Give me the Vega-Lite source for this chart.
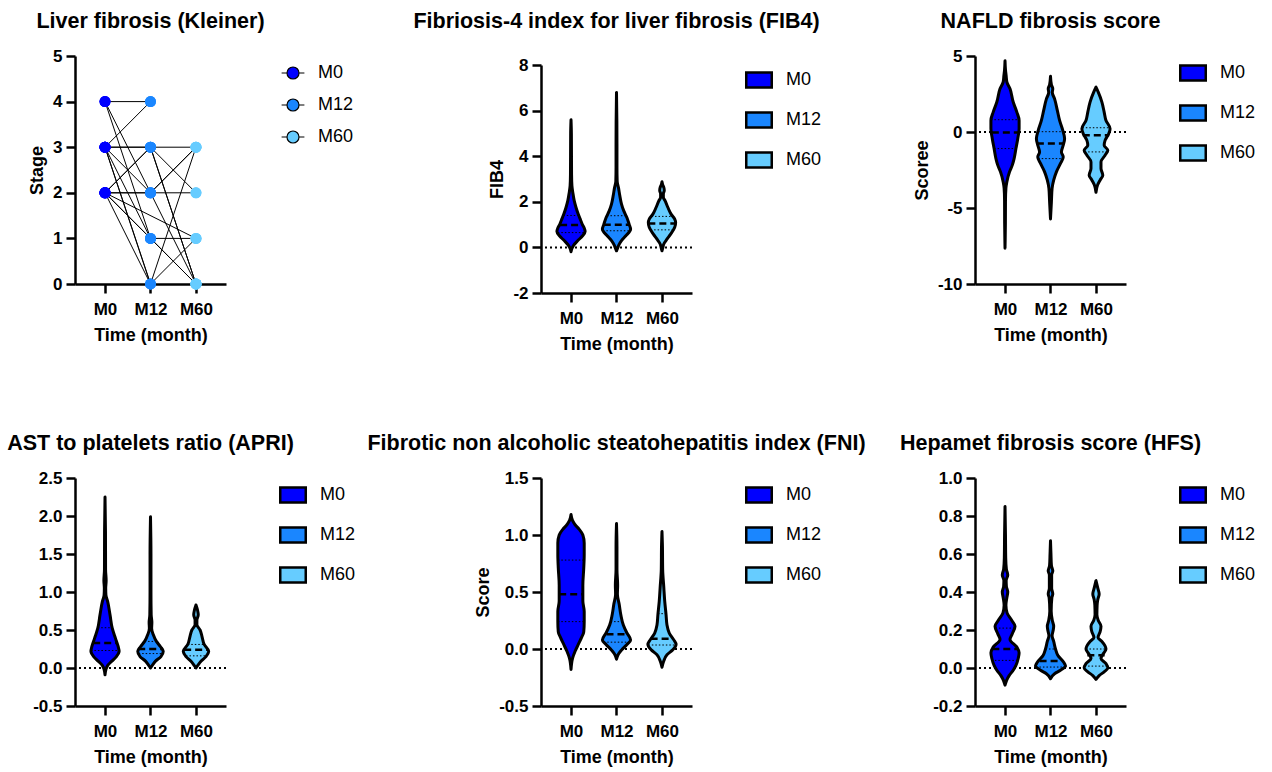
{
  "$schema": "https://vega.github.io/schema/vega-lite/v6.json",
  "padding": {"left": 7, "top": 10, "right": 5, "bottom": 5},
  "config": {
    "font": "Liberation Sans",
    "view": {"stroke": null},
    "axis": {"domainColor": "black", "domainWidth": 2.5, "tickColor": "black", "tickWidth": 2.5, "tickSize": 9, "labelFont": "Liberation Sans", "labelFontWeight": "bold", "labelFontSize": 17, "labelColor": "black", "labelPadding": 4, "titleFont": "Liberation Sans", "titleFontSize": 18, "titleFontWeight": "bold", "titleColor": "black", "titlePadding": 6, "grid": false, "labelFlush": false, "labelOverlap": false},
    "axisX": {"labelAngle": 0, "labelPadding": 8, "titlePadding": 9},
    "legend": {"orient": "right", "offset": 50, "padding": 8, "rowPadding": 14, "labelFont": "Liberation Sans", "labelFontSize": 18, "labelColor": "black", "symbolStrokeColor": "black"},
    "title": {"font": "Liberation Sans", "fontSize": 21.5, "fontWeight": "bold", "color": "black", "anchor": "middle", "frame": "group", "baseline": "alphabetic", "offset": 15}
  },
  "datasets": {
    "kleiner": [
      {"s": 1, "t": 1, "time": "M0", "stage": 4}, {"s": 1, "t": 2, "time": "M12", "stage": 4},
      {"s": 2, "t": 1, "time": "M0", "stage": 4}, {"s": 2, "t": 2, "time": "M12", "stage": 2}, {"s": 2, "t": 3, "time": "M60", "stage": 0},
      {"s": 3, "t": 1, "time": "M0", "stage": 4}, {"s": 3, "t": 2, "time": "M12", "stage": 1}, {"s": 3, "t": 3, "time": "M60", "stage": 0},
      {"s": 4, "t": 1, "time": "M0", "stage": 3}, {"s": 4, "t": 2, "time": "M12", "stage": 4},
      {"s": 5, "t": 1, "time": "M0", "stage": 3}, {"s": 5, "t": 2, "time": "M12", "stage": 3}, {"s": 5, "t": 3, "time": "M60", "stage": 3},
      {"s": 6, "t": 1, "time": "M0", "stage": 3}, {"s": 6, "t": 2, "time": "M12", "stage": 2}, {"s": 6, "t": 3, "time": "M60", "stage": 3},
      {"s": 7, "t": 1, "time": "M0", "stage": 3}, {"s": 7, "t": 2, "time": "M12", "stage": 1}, {"s": 7, "t": 3, "time": "M60", "stage": 1},
      {"s": 8, "t": 1, "time": "M0", "stage": 3}, {"s": 8, "t": 2, "time": "M12", "stage": 0}, {"s": 8, "t": 3, "time": "M60", "stage": 3},
      {"s": 9, "t": 1, "time": "M0", "stage": 3}, {"s": 9, "t": 2, "time": "M12", "stage": 0}, {"s": 9, "t": 3, "time": "M60", "stage": 1},
      {"s": 10, "t": 1, "time": "M0", "stage": 2}, {"s": 10, "t": 2, "time": "M12", "stage": 3}, {"s": 10, "t": 3, "time": "M60", "stage": 2},
      {"s": 11, "t": 1, "time": "M0", "stage": 2}, {"s": 11, "t": 2, "time": "M12", "stage": 3}, {"s": 11, "t": 3, "time": "M60", "stage": 0},
      {"s": 12, "t": 1, "time": "M0", "stage": 2}, {"s": 12, "t": 2, "time": "M12", "stage": 2}, {"s": 12, "t": 3, "time": "M60", "stage": 2},
      {"s": 13, "t": 1, "time": "M0", "stage": 2}, {"s": 13, "t": 2, "time": "M12", "stage": 1}, {"s": 13, "t": 3, "time": "M60", "stage": 0},
      {"s": 14, "t": 1, "time": "M0", "stage": 2}, {"s": 14, "t": 2, "time": "M12", "stage": 0},
      {"s": 15, "t": 1, "time": "M0", "stage": 2}, {"s": 15, "t": 3, "time": "M60", "stage": 1},
      {"s": 16, "t": 1, "time": "M0", "stage": 2}, {"s": 16, "t": 3, "time": "M60", "stage": 0},
      {"s": 17, "t": 1, "time": "M0", "stage": 3}, {"s": 17, "t": 2, "time": "M12", "stage": 3}, {"s": 17, "t": 3, "time": "M60", "stage": 0},
      {"s": 18, "t": 1, "time": "M0", "stage": 2}, {"s": 18, "t": 2, "time": "M12", "stage": 2}, {"s": 18, "t": 3, "time": "M60", "stage": 3}
    ],
    "violin": [
      {"panel": "FIB4", "time": "M0", "value": -0.19, "lo": 1, "hi": 1},
      {"panel": "FIB4", "time": "M0", "value": -0.05, "lo": 0.98, "hi": 1.02},
      {"panel": "FIB4", "time": "M0", "value": 0.1, "lo": 0.94, "hi": 1.06},
      {"panel": "FIB4", "time": "M0", "value": 0.3, "lo": 0.85, "hi": 1.15},
      {"panel": "FIB4", "time": "M0", "value": 0.5, "lo": 0.75, "hi": 1.25},
      {"panel": "FIB4", "time": "M0", "value": 0.7, "lo": 0.69, "hi": 1.31},
      {"panel": "FIB4", "time": "M0", "value": 0.85, "lo": 0.71, "hi": 1.29},
      {"panel": "FIB4", "time": "M0", "value": 1.0, "lo": 0.75, "hi": 1.25},
      {"panel": "FIB4", "time": "M0", "value": 1.2, "lo": 0.79, "hi": 1.21},
      {"panel": "FIB4", "time": "M0", "value": 1.45, "lo": 0.84, "hi": 1.16},
      {"panel": "FIB4", "time": "M0", "value": 1.75, "lo": 0.89, "hi": 1.11},
      {"panel": "FIB4", "time": "M0", "value": 2.05, "lo": 0.93, "hi": 1.07},
      {"panel": "FIB4", "time": "M0", "value": 2.4, "lo": 0.96, "hi": 1.04},
      {"panel": "FIB4", "time": "M0", "value": 2.7, "lo": 0.98, "hi": 1.02},
      {"panel": "FIB4", "time": "M0", "value": 3.2, "lo": 0.988, "hi": 1.012},
      {"panel": "FIB4", "time": "M0", "value": 4.0, "lo": 0.99, "hi": 1.01},
      {"panel": "FIB4", "time": "M0", "value": 5.0, "lo": 0.992, "hi": 1.008},
      {"panel": "FIB4", "time": "M0", "value": 5.6, "lo": 1, "hi": 1},
      {"panel": "FIB4", "time": "M12", "value": -0.15, "lo": 2, "hi": 2},
      {"panel": "FIB4", "time": "M12", "value": 0.0, "lo": 1.97, "hi": 2.03},
      {"panel": "FIB4", "time": "M12", "value": 0.1, "lo": 1.95, "hi": 2.05},
      {"panel": "FIB4", "time": "M12", "value": 0.3, "lo": 1.89, "hi": 2.11},
      {"panel": "FIB4", "time": "M12", "value": 0.5, "lo": 1.8, "hi": 2.2},
      {"panel": "FIB4", "time": "M12", "value": 0.8, "lo": 1.69, "hi": 2.31},
      {"panel": "FIB4", "time": "M12", "value": 1.0, "lo": 1.72, "hi": 2.28},
      {"panel": "FIB4", "time": "M12", "value": 1.3, "lo": 1.77, "hi": 2.23},
      {"panel": "FIB4", "time": "M12", "value": 1.6, "lo": 1.84, "hi": 2.16},
      {"panel": "FIB4", "time": "M12", "value": 1.9, "lo": 1.89, "hi": 2.11},
      {"panel": "FIB4", "time": "M12", "value": 2.3, "lo": 1.93, "hi": 2.07},
      {"panel": "FIB4", "time": "M12", "value": 2.6, "lo": 1.955, "hi": 2.045},
      {"panel": "FIB4", "time": "M12", "value": 2.9, "lo": 1.985, "hi": 2.015},
      {"panel": "FIB4", "time": "M12", "value": 3.5, "lo": 1.99, "hi": 2.01},
      {"panel": "FIB4", "time": "M12", "value": 4.5, "lo": 1.99, "hi": 2.01},
      {"panel": "FIB4", "time": "M12", "value": 5.5, "lo": 1.992, "hi": 2.008},
      {"panel": "FIB4", "time": "M12", "value": 6.79, "lo": 2, "hi": 2},
      {"panel": "FIB4", "time": "M60", "value": -0.15, "lo": 3, "hi": 3},
      {"panel": "FIB4", "time": "M60", "value": 0.0, "lo": 2.98, "hi": 3.02},
      {"panel": "FIB4", "time": "M60", "value": 0.15, "lo": 2.96, "hi": 3.04},
      {"panel": "FIB4", "time": "M60", "value": 0.36, "lo": 2.89, "hi": 3.11},
      {"panel": "FIB4", "time": "M60", "value": 0.58, "lo": 2.81, "hi": 3.19},
      {"panel": "FIB4", "time": "M60", "value": 0.88, "lo": 2.72, "hi": 3.28},
      {"panel": "FIB4", "time": "M60", "value": 1.09, "lo": 2.7, "hi": 3.3},
      {"panel": "FIB4", "time": "M60", "value": 1.24, "lo": 2.72, "hi": 3.28},
      {"panel": "FIB4", "time": "M60", "value": 1.46, "lo": 2.8, "hi": 3.2},
      {"panel": "FIB4", "time": "M60", "value": 1.75, "lo": 2.87, "hi": 3.13},
      {"panel": "FIB4", "time": "M60", "value": 2.04, "lo": 2.93, "hi": 3.07},
      {"panel": "FIB4", "time": "M60", "value": 2.2, "lo": 2.97, "hi": 3.03},
      {"panel": "FIB4", "time": "M60", "value": 2.35, "lo": 2.97, "hi": 3.03},
      {"panel": "FIB4", "time": "M60", "value": 2.5, "lo": 2.95, "hi": 3.05},
      {"panel": "FIB4", "time": "M60", "value": 2.63, "lo": 2.96, "hi": 3.04},
      {"panel": "FIB4", "time": "M60", "value": 2.75, "lo": 2.985, "hi": 3.015},
      {"panel": "FIB4", "time": "M60", "value": 2.88, "lo": 3, "hi": 3},

      {"panel": "NFS", "time": "M0", "value": -7.64, "lo": 1, "hi": 1},
      {"panel": "NFS", "time": "M0", "value": -6.0, "lo": 0.992, "hi": 1.008},
      {"panel": "NFS", "time": "M0", "value": -4.5, "lo": 0.99, "hi": 1.01},
      {"panel": "NFS", "time": "M0", "value": -3.7, "lo": 0.98, "hi": 1.02},
      {"panel": "NFS", "time": "M0", "value": -3.28, "lo": 0.96, "hi": 1.04},
      {"panel": "NFS", "time": "M0", "value": -2.62, "lo": 0.9, "hi": 1.1},
      {"panel": "NFS", "time": "M0", "value": -2.18, "lo": 0.84, "hi": 1.16},
      {"panel": "NFS", "time": "M0", "value": -1.75, "lo": 0.8, "hi": 1.2},
      {"panel": "NFS", "time": "M0", "value": -1.09, "lo": 0.76, "hi": 1.24},
      {"panel": "NFS", "time": "M0", "value": -0.44, "lo": 0.72, "hi": 1.28},
      {"panel": "NFS", "time": "M0", "value": 0.22, "lo": 0.69, "hi": 1.31},
      {"panel": "NFS", "time": "M0", "value": 0.76, "lo": 0.69, "hi": 1.31},
      {"panel": "NFS", "time": "M0", "value": 1.31, "lo": 0.74, "hi": 1.26},
      {"panel": "NFS", "time": "M0", "value": 1.97, "lo": 0.82, "hi": 1.18},
      {"panel": "NFS", "time": "M0", "value": 2.84, "lo": 0.89, "hi": 1.11},
      {"panel": "NFS", "time": "M0", "value": 3.3, "lo": 0.96, "hi": 1.04},
      {"panel": "NFS", "time": "M0", "value": 3.7, "lo": 0.975, "hi": 1.025},
      {"panel": "NFS", "time": "M0", "value": 4.1, "lo": 0.99, "hi": 1.01},
      {"panel": "NFS", "time": "M0", "value": 4.69, "lo": 1, "hi": 1},
      {"panel": "NFS", "time": "M12", "value": -5.72, "lo": 2, "hi": 2},
      {"panel": "NFS", "time": "M12", "value": -4.58, "lo": 1.98, "hi": 2.02},
      {"panel": "NFS", "time": "M12", "value": -3.71, "lo": 1.965, "hi": 2.035},
      {"panel": "NFS", "time": "M12", "value": -3.17, "lo": 1.93, "hi": 2.07},
      {"panel": "NFS", "time": "M12", "value": -2.62, "lo": 1.87, "hi": 2.13},
      {"panel": "NFS", "time": "M12", "value": -2.07, "lo": 1.78, "hi": 2.22},
      {"panel": "NFS", "time": "M12", "value": -1.64, "lo": 1.72, "hi": 2.28},
      {"panel": "NFS", "time": "M12", "value": -1.31, "lo": 1.76, "hi": 2.24},
      {"panel": "NFS", "time": "M12", "value": -0.87, "lo": 1.72, "hi": 2.28},
      {"panel": "NFS", "time": "M12", "value": -0.44, "lo": 1.69, "hi": 2.31},
      {"panel": "NFS", "time": "M12", "value": 0.11, "lo": 1.73, "hi": 2.27},
      {"panel": "NFS", "time": "M12", "value": 0.76, "lo": 1.8, "hi": 2.2},
      {"panel": "NFS", "time": "M12", "value": 1.42, "lo": 1.85, "hi": 2.15},
      {"panel": "NFS", "time": "M12", "value": 2.18, "lo": 1.91, "hi": 2.09},
      {"panel": "NFS", "time": "M12", "value": 2.6, "lo": 1.96, "hi": 2.04},
      {"panel": "NFS", "time": "M12", "value": 2.85, "lo": 1.95, "hi": 2.05},
      {"panel": "NFS", "time": "M12", "value": 3.1, "lo": 1.98, "hi": 2.02},
      {"panel": "NFS", "time": "M12", "value": 3.67, "lo": 2, "hi": 2},
      {"panel": "NFS", "time": "M60", "value": -3.97, "lo": 3, "hi": 3},
      {"panel": "NFS", "time": "M60", "value": -3.49, "lo": 2.965, "hi": 3.035},
      {"panel": "NFS", "time": "M60", "value": -3.17, "lo": 2.91, "hi": 3.09},
      {"panel": "NFS", "time": "M60", "value": -2.84, "lo": 2.85, "hi": 3.15},
      {"panel": "NFS", "time": "M60", "value": -2.4, "lo": 2.89, "hi": 3.11},
      {"panel": "NFS", "time": "M60", "value": -1.97, "lo": 2.89, "hi": 3.11},
      {"panel": "NFS", "time": "M60", "value": -1.53, "lo": 2.8, "hi": 3.2},
      {"panel": "NFS", "time": "M60", "value": -1.2, "lo": 2.74, "hi": 3.26},
      {"panel": "NFS", "time": "M60", "value": -0.87, "lo": 2.82, "hi": 3.18},
      {"panel": "NFS", "time": "M60", "value": -0.55, "lo": 2.8, "hi": 3.2},
      {"panel": "NFS", "time": "M60", "value": -0.11, "lo": 2.72, "hi": 3.28},
      {"panel": "NFS", "time": "M60", "value": 0.22, "lo": 2.69, "hi": 3.31},
      {"panel": "NFS", "time": "M60", "value": 0.76, "lo": 2.78, "hi": 3.22},
      {"panel": "NFS", "time": "M60", "value": 1.31, "lo": 2.82, "hi": 3.18},
      {"panel": "NFS", "time": "M60", "value": 1.97, "lo": 2.87, "hi": 3.13},
      {"panel": "NFS", "time": "M60", "value": 2.62, "lo": 2.95, "hi": 3.05},
      {"panel": "NFS", "time": "M60", "value": 2.95, "lo": 3, "hi": 3},

      {"panel": "APRI", "time": "M0", "value": -0.09, "lo": 1, "hi": 1},
      {"panel": "APRI", "time": "M0", "value": -0.02, "lo": 0.98, "hi": 1.02},
      {"panel": "APRI", "time": "M0", "value": 0.035, "lo": 0.94, "hi": 1.06},
      {"panel": "APRI", "time": "M0", "value": 0.09, "lo": 0.85, "hi": 1.15},
      {"panel": "APRI", "time": "M0", "value": 0.15, "lo": 0.75, "hi": 1.25},
      {"panel": "APRI", "time": "M0", "value": 0.22, "lo": 0.69, "hi": 1.31},
      {"panel": "APRI", "time": "M0", "value": 0.28, "lo": 0.71, "hi": 1.29},
      {"panel": "APRI", "time": "M0", "value": 0.39, "lo": 0.77, "hi": 1.23},
      {"panel": "APRI", "time": "M0", "value": 0.52, "lo": 0.84, "hi": 1.16},
      {"panel": "APRI", "time": "M0", "value": 0.7, "lo": 0.89, "hi": 1.11},
      {"panel": "APRI", "time": "M0", "value": 0.87, "lo": 0.94, "hi": 1.06},
      {"panel": "APRI", "time": "M0", "value": 0.96, "lo": 0.98, "hi": 1.02},
      {"panel": "APRI", "time": "M0", "value": 1.05, "lo": 0.985, "hi": 1.015},
      {"panel": "APRI", "time": "M0", "value": 1.15, "lo": 0.975, "hi": 1.025},
      {"panel": "APRI", "time": "M0", "value": 1.3, "lo": 0.988, "hi": 1.012},
      {"panel": "APRI", "time": "M0", "value": 1.8, "lo": 0.99, "hi": 1.01},
      {"panel": "APRI", "time": "M0", "value": 2.25, "lo": 1, "hi": 1},
      {"panel": "APRI", "time": "M12", "value": 0.0, "lo": 2, "hi": 2},
      {"panel": "APRI", "time": "M12", "value": 0.035, "lo": 1.96, "hi": 2.04},
      {"panel": "APRI", "time": "M12", "value": 0.09, "lo": 1.89, "hi": 2.11},
      {"panel": "APRI", "time": "M12", "value": 0.15, "lo": 1.77, "hi": 2.23},
      {"panel": "APRI", "time": "M12", "value": 0.22, "lo": 1.72, "hi": 2.28},
      {"panel": "APRI", "time": "M12", "value": 0.28, "lo": 1.78, "hi": 2.22},
      {"panel": "APRI", "time": "M12", "value": 0.35, "lo": 1.87, "hi": 2.13},
      {"panel": "APRI", "time": "M12", "value": 0.44, "lo": 1.94, "hi": 2.06},
      {"panel": "APRI", "time": "M12", "value": 0.52, "lo": 1.975, "hi": 2.025},
      {"panel": "APRI", "time": "M12", "value": 0.6, "lo": 1.97, "hi": 2.03},
      {"panel": "APRI", "time": "M12", "value": 0.7, "lo": 1.985, "hi": 2.015},
      {"panel": "APRI", "time": "M12", "value": 1.0, "lo": 1.99, "hi": 2.01},
      {"panel": "APRI", "time": "M12", "value": 1.5, "lo": 1.99, "hi": 2.01},
      {"panel": "APRI", "time": "M12", "value": 1.99, "lo": 2, "hi": 2},
      {"panel": "APRI", "time": "M60", "value": 0.0, "lo": 3, "hi": 3},
      {"panel": "APRI", "time": "M60", "value": 0.035, "lo": 2.96, "hi": 3.04},
      {"panel": "APRI", "time": "M60", "value": 0.09, "lo": 2.89, "hi": 3.11},
      {"panel": "APRI", "time": "M60", "value": 0.15, "lo": 2.78, "hi": 3.22},
      {"panel": "APRI", "time": "M60", "value": 0.22, "lo": 2.72, "hi": 3.28},
      {"panel": "APRI", "time": "M60", "value": 0.31, "lo": 2.82, "hi": 3.18},
      {"panel": "APRI", "time": "M60", "value": 0.42, "lo": 2.87, "hi": 3.13},
      {"panel": "APRI", "time": "M60", "value": 0.5, "lo": 2.91, "hi": 3.09},
      {"panel": "APRI", "time": "M60", "value": 0.57, "lo": 2.98, "hi": 3.02},
      {"panel": "APRI", "time": "M60", "value": 0.63, "lo": 2.98, "hi": 3.02},
      {"panel": "APRI", "time": "M60", "value": 0.7, "lo": 2.95, "hi": 3.05},
      {"panel": "APRI", "time": "M60", "value": 0.76, "lo": 2.965, "hi": 3.035},
      {"panel": "APRI", "time": "M60", "value": 0.83, "lo": 3, "hi": 3},

      {"panel": "FNI", "time": "M0", "value": -0.18, "lo": 1, "hi": 1},
      {"panel": "FNI", "time": "M0", "value": -0.08, "lo": 0.965, "hi": 1.035},
      {"panel": "FNI", "time": "M0", "value": -0.02, "lo": 0.91, "hi": 1.09},
      {"panel": "FNI", "time": "M0", "value": 0.04, "lo": 0.84, "hi": 1.16},
      {"panel": "FNI", "time": "M0", "value": 0.1, "lo": 0.77, "hi": 1.23},
      {"panel": "FNI", "time": "M0", "value": 0.15, "lo": 0.72, "hi": 1.28},
      {"panel": "FNI", "time": "M0", "value": 0.24, "lo": 0.71, "hi": 1.29},
      {"panel": "FNI", "time": "M0", "value": 0.33, "lo": 0.71, "hi": 1.29},
      {"panel": "FNI", "time": "M0", "value": 0.42, "lo": 0.74, "hi": 1.26},
      {"panel": "FNI", "time": "M0", "value": 0.56, "lo": 0.74, "hi": 1.26},
      {"panel": "FNI", "time": "M0", "value": 0.71, "lo": 0.72, "hi": 1.28},
      {"panel": "FNI", "time": "M0", "value": 0.83, "lo": 0.71, "hi": 1.29},
      {"panel": "FNI", "time": "M0", "value": 0.93, "lo": 0.71, "hi": 1.29},
      {"panel": "FNI", "time": "M0", "value": 1.0, "lo": 0.74, "hi": 1.26},
      {"panel": "FNI", "time": "M0", "value": 1.05, "lo": 0.82, "hi": 1.18},
      {"panel": "FNI", "time": "M0", "value": 1.09, "lo": 0.91, "hi": 1.09},
      {"panel": "FNI", "time": "M0", "value": 1.13, "lo": 0.97, "hi": 1.03},
      {"panel": "FNI", "time": "M0", "value": 1.18, "lo": 1, "hi": 1},
      {"panel": "FNI", "time": "M12", "value": -0.09, "lo": 2, "hi": 2},
      {"panel": "FNI", "time": "M12", "value": -0.05, "lo": 1.965, "hi": 2.035},
      {"panel": "FNI", "time": "M12", "value": -0.01, "lo": 1.89, "hi": 2.11},
      {"panel": "FNI", "time": "M12", "value": 0.04, "lo": 1.77, "hi": 2.23},
      {"panel": "FNI", "time": "M12", "value": 0.08, "lo": 1.69, "hi": 2.31},
      {"panel": "FNI", "time": "M12", "value": 0.14, "lo": 1.77, "hi": 2.23},
      {"panel": "FNI", "time": "M12", "value": 0.21, "lo": 1.85, "hi": 2.15},
      {"panel": "FNI", "time": "M12", "value": 0.3, "lo": 1.905, "hi": 2.095},
      {"panel": "FNI", "time": "M12", "value": 0.39, "lo": 1.94, "hi": 2.06},
      {"panel": "FNI", "time": "M12", "value": 0.48, "lo": 1.98, "hi": 2.02},
      {"panel": "FNI", "time": "M12", "value": 0.56, "lo": 1.975, "hi": 2.025},
      {"panel": "FNI", "time": "M12", "value": 0.7, "lo": 1.99, "hi": 2.01},
      {"panel": "FNI", "time": "M12", "value": 0.9, "lo": 1.99, "hi": 2.01},
      {"panel": "FNI", "time": "M12", "value": 1.1, "lo": 2, "hi": 2},
      {"panel": "FNI", "time": "M60", "value": -0.16, "lo": 3, "hi": 3},
      {"panel": "FNI", "time": "M60", "value": -0.11, "lo": 2.965, "hi": 3.035},
      {"panel": "FNI", "time": "M60", "value": -0.05, "lo": 2.89, "hi": 3.11},
      {"panel": "FNI", "time": "M60", "value": -0.01, "lo": 2.77, "hi": 3.23},
      {"panel": "FNI", "time": "M60", "value": 0.04, "lo": 2.69, "hi": 3.31},
      {"panel": "FNI", "time": "M60", "value": 0.08, "lo": 2.74, "hi": 3.26},
      {"panel": "FNI", "time": "M60", "value": 0.14, "lo": 2.84, "hi": 3.16},
      {"panel": "FNI", "time": "M60", "value": 0.21, "lo": 2.89, "hi": 3.11},
      {"panel": "FNI", "time": "M60", "value": 0.3, "lo": 2.91, "hi": 3.09},
      {"panel": "FNI", "time": "M60", "value": 0.42, "lo": 2.94, "hi": 3.06},
      {"panel": "FNI", "time": "M60", "value": 0.54, "lo": 2.96, "hi": 3.04},
      {"panel": "FNI", "time": "M60", "value": 0.7, "lo": 2.985, "hi": 3.015},
      {"panel": "FNI", "time": "M60", "value": 0.9, "lo": 2.99, "hi": 3.01},
      {"panel": "FNI", "time": "M60", "value": 1.03, "lo": 3, "hi": 3},

      {"panel": "HFS", "time": "M0", "value": -0.09, "lo": 1, "hi": 1},
      {"panel": "HFS", "time": "M0", "value": -0.065, "lo": 0.965, "hi": 1.035},
      {"panel": "HFS", "time": "M0", "value": -0.04, "lo": 0.91, "hi": 1.09},
      {"panel": "HFS", "time": "M0", "value": -0.012, "lo": 0.82, "hi": 1.18},
      {"panel": "HFS", "time": "M0", "value": 0.014, "lo": 0.76, "hi": 1.24},
      {"panel": "HFS", "time": "M0", "value": 0.05, "lo": 0.71, "hi": 1.29},
      {"panel": "HFS", "time": "M0", "value": 0.08, "lo": 0.69, "hi": 1.31},
      {"panel": "HFS", "time": "M0", "value": 0.11, "lo": 0.74, "hi": 1.26},
      {"panel": "HFS", "time": "M0", "value": 0.15, "lo": 0.89, "hi": 1.11},
      {"panel": "HFS", "time": "M0", "value": 0.18, "lo": 0.84, "hi": 1.16},
      {"panel": "HFS", "time": "M0", "value": 0.22, "lo": 0.78, "hi": 1.22},
      {"panel": "HFS", "time": "M0", "value": 0.25, "lo": 0.85, "hi": 1.15},
      {"panel": "HFS", "time": "M0", "value": 0.29, "lo": 0.955, "hi": 1.045},
      {"panel": "HFS", "time": "M0", "value": 0.33, "lo": 0.98, "hi": 1.02},
      {"panel": "HFS", "time": "M0", "value": 0.37, "lo": 0.96, "hi": 1.04},
      {"panel": "HFS", "time": "M0", "value": 0.4, "lo": 0.94, "hi": 1.06},
      {"panel": "HFS", "time": "M0", "value": 0.43, "lo": 0.97, "hi": 1.03},
      {"panel": "HFS", "time": "M0", "value": 0.46, "lo": 0.975, "hi": 1.025},
      {"panel": "HFS", "time": "M0", "value": 0.49, "lo": 0.94, "hi": 1.06},
      {"panel": "HFS", "time": "M0", "value": 0.52, "lo": 0.97, "hi": 1.03},
      {"panel": "HFS", "time": "M0", "value": 0.58, "lo": 0.985, "hi": 1.015},
      {"panel": "HFS", "time": "M0", "value": 0.7, "lo": 0.99, "hi": 1.01},
      {"panel": "HFS", "time": "M0", "value": 0.85, "lo": 1, "hi": 1},
      {"panel": "HFS", "time": "M12", "value": -0.056, "lo": 2, "hi": 2},
      {"panel": "HFS", "time": "M12", "value": -0.03, "lo": 1.91, "hi": 2.09},
      {"panel": "HFS", "time": "M12", "value": -0.012, "lo": 1.78, "hi": 2.22},
      {"panel": "HFS", "time": "M12", "value": 0.01, "lo": 1.67, "hi": 2.33},
      {"panel": "HFS", "time": "M12", "value": 0.03, "lo": 1.71, "hi": 2.29},
      {"panel": "HFS", "time": "M12", "value": 0.067, "lo": 1.84, "hi": 2.16},
      {"panel": "HFS", "time": "M12", "value": 0.1, "lo": 1.89, "hi": 2.11},
      {"panel": "HFS", "time": "M12", "value": 0.14, "lo": 1.93, "hi": 2.07},
      {"panel": "HFS", "time": "M12", "value": 0.17, "lo": 1.965, "hi": 2.035},
      {"panel": "HFS", "time": "M12", "value": 0.2, "lo": 1.94, "hi": 2.06},
      {"panel": "HFS", "time": "M12", "value": 0.22, "lo": 1.93, "hi": 2.07},
      {"panel": "HFS", "time": "M12", "value": 0.25, "lo": 1.96, "hi": 2.04},
      {"panel": "HFS", "time": "M12", "value": 0.3, "lo": 1.985, "hi": 2.015},
      {"panel": "HFS", "time": "M12", "value": 0.37, "lo": 1.97, "hi": 2.03},
      {"panel": "HFS", "time": "M12", "value": 0.39, "lo": 1.95, "hi": 2.05},
      {"panel": "HFS", "time": "M12", "value": 0.42, "lo": 1.975, "hi": 2.025},
      {"panel": "HFS", "time": "M12", "value": 0.49, "lo": 1.975, "hi": 2.025},
      {"panel": "HFS", "time": "M12", "value": 0.51, "lo": 1.95, "hi": 2.05},
      {"panel": "HFS", "time": "M12", "value": 0.54, "lo": 1.98, "hi": 2.02},
      {"panel": "HFS", "time": "M12", "value": 0.6, "lo": 1.99, "hi": 2.01},
      {"panel": "HFS", "time": "M12", "value": 0.67, "lo": 2, "hi": 2},
      {"panel": "HFS", "time": "M60", "value": -0.06, "lo": 3, "hi": 3},
      {"panel": "HFS", "time": "M60", "value": -0.04, "lo": 2.93, "hi": 3.07},
      {"panel": "HFS", "time": "M60", "value": -0.02, "lo": 2.82, "hi": 3.18},
      {"panel": "HFS", "time": "M60", "value": 0.0, "lo": 2.74, "hi": 3.26},
      {"panel": "HFS", "time": "M60", "value": 0.023, "lo": 2.78, "hi": 3.22},
      {"panel": "HFS", "time": "M60", "value": 0.05, "lo": 2.89, "hi": 3.11},
      {"panel": "HFS", "time": "M60", "value": 0.075, "lo": 2.84, "hi": 3.16},
      {"panel": "HFS", "time": "M60", "value": 0.1, "lo": 2.78, "hi": 3.22},
      {"panel": "HFS", "time": "M60", "value": 0.14, "lo": 2.87, "hi": 3.13},
      {"panel": "HFS", "time": "M60", "value": 0.16, "lo": 2.955, "hi": 3.045},
      {"panel": "HFS", "time": "M60", "value": 0.19, "lo": 2.91, "hi": 3.09},
      {"panel": "HFS", "time": "M60", "value": 0.22, "lo": 2.89, "hi": 3.11},
      {"panel": "HFS", "time": "M60", "value": 0.25, "lo": 2.95, "hi": 3.05},
      {"panel": "HFS", "time": "M60", "value": 0.28, "lo": 2.98, "hi": 3.02},
      {"panel": "HFS", "time": "M60", "value": 0.33, "lo": 2.975, "hi": 3.025},
      {"panel": "HFS", "time": "M60", "value": 0.36, "lo": 2.96, "hi": 3.04},
      {"panel": "HFS", "time": "M60", "value": 0.39, "lo": 2.93, "hi": 3.07},
      {"panel": "HFS", "time": "M60", "value": 0.42, "lo": 2.96, "hi": 3.04},
      {"panel": "HFS", "time": "M60", "value": 0.46, "lo": 3, "hi": 3}
    ],
    "stats": [
      {"panel": "FIB4", "time": "M0", "stat": "median", "value": 0.98, "lo": 0.76, "hi": 1.24},
      {"panel": "FIB4", "time": "M0", "stat": "quartile", "value": 0.65, "lo": 0.71, "hi": 1.29},
      {"panel": "FIB4", "time": "M0", "stat": "quartile", "value": 1.4, "lo": 0.83, "hi": 1.17},
      {"panel": "FIB4", "time": "M12", "stat": "median", "value": 0.99, "lo": 1.72, "hi": 2.28},
      {"panel": "FIB4", "time": "M12", "stat": "quartile", "value": 0.73, "lo": 1.7, "hi": 2.3},
      {"panel": "FIB4", "time": "M12", "stat": "quartile", "value": 1.39, "lo": 1.79, "hi": 2.21},
      {"panel": "FIB4", "time": "M60", "stat": "median", "value": 1.05, "lo": 2.7, "hi": 3.3},
      {"panel": "FIB4", "time": "M60", "stat": "quartile", "value": 0.77, "lo": 2.75, "hi": 3.25},
      {"panel": "FIB4", "time": "M60", "stat": "quartile", "value": 1.36, "lo": 2.77, "hi": 3.23},
      {"panel": "NFS", "time": "M0", "stat": "median", "value": -0.04, "lo": 0.71, "hi": 1.29},
      {"panel": "NFS", "time": "M0", "stat": "quartile", "value": -1.09, "lo": 0.76, "hi": 1.24},
      {"panel": "NFS", "time": "M0", "stat": "quartile", "value": 0.81, "lo": 0.69, "hi": 1.31},
      {"panel": "NFS", "time": "M12", "stat": "median", "value": -0.76, "lo": 1.7, "hi": 2.3},
      {"panel": "NFS", "time": "M12", "stat": "quartile", "value": -1.75, "lo": 1.73, "hi": 2.27},
      {"panel": "NFS", "time": "M12", "stat": "quartile", "value": 0.02, "lo": 1.73, "hi": 2.27},
      {"panel": "NFS", "time": "M60", "stat": "median", "value": -0.22, "lo": 2.71, "hi": 3.29},
      {"panel": "NFS", "time": "M60", "stat": "quartile", "value": -1.31, "lo": 2.75, "hi": 3.25},
      {"panel": "NFS", "time": "M60", "stat": "quartile", "value": 0.28, "lo": 2.7, "hi": 3.3},
      {"panel": "APRI", "time": "M0", "stat": "median", "value": 0.33, "lo": 0.74, "hi": 1.26},
      {"panel": "APRI", "time": "M0", "stat": "quartile", "value": 0.23, "lo": 0.69, "hi": 1.31},
      {"panel": "APRI", "time": "M0", "stat": "quartile", "value": 0.53, "lo": 0.84, "hi": 1.16},
      {"panel": "APRI", "time": "M12", "stat": "median", "value": 0.25, "lo": 1.73, "hi": 2.27},
      {"panel": "APRI", "time": "M12", "stat": "quartile", "value": 0.19, "lo": 1.74, "hi": 2.26},
      {"panel": "APRI", "time": "M12", "stat": "quartile", "value": 0.35, "lo": 1.87, "hi": 2.13},
      {"panel": "APRI", "time": "M60", "stat": "median", "value": 0.24, "lo": 2.74, "hi": 3.26},
      {"panel": "APRI", "time": "M60", "stat": "quartile", "value": 0.16, "lo": 2.78, "hi": 3.22},
      {"panel": "APRI", "time": "M60", "stat": "quartile", "value": 0.31, "lo": 2.82, "hi": 3.18},
      {"panel": "FNI", "time": "M0", "stat": "median", "value": 0.48, "lo": 0.74, "hi": 1.26},
      {"panel": "FNI", "time": "M0", "stat": "quartile", "value": 0.24, "lo": 0.71, "hi": 1.29},
      {"panel": "FNI", "time": "M0", "stat": "quartile", "value": 0.78, "lo": 0.71, "hi": 1.29},
      {"panel": "FNI", "time": "M12", "stat": "median", "value": 0.13, "lo": 1.78, "hi": 2.22},
      {"panel": "FNI", "time": "M12", "stat": "quartile", "value": 0.06, "lo": 1.72, "hi": 2.28},
      {"panel": "FNI", "time": "M12", "stat": "quartile", "value": 0.24, "lo": 1.87, "hi": 2.13},
      {"panel": "FNI", "time": "M60", "stat": "median", "value": 0.09, "lo": 2.75, "hi": 3.25},
      {"panel": "FNI", "time": "M60", "stat": "quartile", "value": 0.035, "lo": 2.7, "hi": 3.3},
      {"panel": "FNI", "time": "M60", "stat": "quartile", "value": 0.31, "lo": 2.91, "hi": 3.09},
      {"panel": "HFS", "time": "M0", "stat": "median", "value": 0.1, "lo": 0.72, "hi": 1.28},
      {"panel": "HFS", "time": "M0", "stat": "quartile", "value": 0.04, "lo": 0.7, "hi": 1.3},
      {"panel": "HFS", "time": "M0", "stat": "quartile", "value": 0.21, "lo": 0.79, "hi": 1.21},
      {"panel": "HFS", "time": "M12", "stat": "median", "value": 0.037, "lo": 1.76, "hi": 2.24},
      {"panel": "HFS", "time": "M12", "stat": "quartile", "value": 0.005, "lo": 1.68, "hi": 2.32},
      {"panel": "HFS", "time": "M12", "stat": "quartile", "value": 0.1, "lo": 1.89, "hi": 2.11},
      {"panel": "HFS", "time": "M60", "stat": "median", "value": 0.067, "lo": 2.81, "hi": 3.19},
      {"panel": "HFS", "time": "M60", "stat": "quartile", "value": 0.01, "lo": 2.75, "hi": 3.25},
      {"panel": "HFS", "time": "M60", "stat": "quartile", "value": 0.1, "lo": 2.78, "hi": 3.22}
    ]
  },
  "concat": [
    {
      "width": 151, "height": 228,
      "title": {"text": "Liver fibrosis (Kleiner)"},
      "data": {"name": "kleiner"},
      "encoding": {
        "x": {"field": "t", "type": "quantitative", "scale": {"domain": [0.34, 3.66], "nice": false, "zero": false}, "axis": {"values": [1, 2, 3], "labelExpr": "datum.value == 1 ? 'M0' : datum.value == 2 ? 'M12' : 'M60'", "title": "Time (month)"}},
        "y": {"field": "stage", "type": "quantitative", "scale": {"domain": [0, 5], "nice": false, "zero": false}, "axis": {"values": [0, 1, 2, 3, 4, 5], "title": "Stage"}}
      },
      "layer": [
        {"mark": {"type": "line", "color": "black", "strokeWidth": 1}, "encoding": {"detail": {"field": "s", "type": "nominal"}}},
        {"mark": {"type": "point", "filled": true, "size": 120, "opacity": 1},
         "encoding": {"color": {"field": "time", "type": "nominal", "scale": {"domain": ["M0", "M12", "M60"], "range": ["#0000FF", "#1A86FF", "#66CCFF"]},
           "legend": {"title": null, "symbolType": "M-1.9,0H-1M1,0H1.9M1,0A1,1,0,1,1,-1,0A1,1,0,1,1,1,0Z", "symbolSize": 144, "symbolStrokeWidth": 1.2, "labelOffset": 16,
             "encode": {"symbols": {"update": {"stroke": {"value": "#333333"}, "strokeWidth": {"value": 1.2}, "shape": {"value": "M-1.9,0H-1M1,0H1.9M1,0A1,1,0,1,1,-1,0A1,1,0,1,1,1,0Z"}, "size": {"value": 144}, "opacity": {"value": 1}}}}}}}}
      ]
    },
    {"width": 315, "height": 10, "data": {"values": []}, "mark": {"type": "rect", "opacity": 0}, "encoding": {}},
    {
      "width": 151, "height": 237,
      "title": {"text": "Fibriosis-4 index for liver fibrosis (FIB4)", "offset": 24},
      "encoding": {"y": {"field": "value", "type": "quantitative", "scale": {"domain": [-2, 8], "range": [237, 9], "nice": false, "zero": false}, "axis": {"values": [-2, 0, 2, 4, 6, 8], "labelExpr": "replace(datum.label, '\u2212', '-')", "title": "FIB4"}}},
      "layer": [
        {"data": {"values": [{"value": 0}]}, "mark": {"type": "rule", "color": "black", "strokeWidth": 2, "strokeDash": [2, 3]}},
        {"data": {"name": "violin"}, "transform": [{"filter": "datum.panel == 'FIB4'"}],
         "mark": {"type": "area", "orient": "horizontal", "interpolate": "monotone", "stroke": "black", "strokeWidth": 3, "strokeJoin": "round", "opacity": 1},
         "encoding": {
           "x": {"field": "lo", "type": "quantitative", "stack": null, "scale": {"domain": [0.34, 3.66], "nice": false, "zero": false}, "axis": {"values": [1, 2, 3], "labelExpr": "datum.value == 1 ? 'M0' : datum.value == 2 ? 'M12' : 'M60'", "title": "Time (month)"}},
           "x2": {"field": "hi"},
           "detail": {"field": "time", "type": "nominal"},
           "color": {"field": "time", "type": "nominal", "scale": {"domain": ["M0", "M12", "M60"], "range": ["#0000FF", "#1A86FF", "#66CCFF"]},
             "legend": {"title": null, "padding": 15, "offset": 43, "symbolType": "M-1.7,-1H1.7V1H-1.7Z", "symbolSize": 225, "symbolStrokeWidth": 2.5, "labelOffset": 18,
               "encode": {"symbols": {"update": {"stroke": {"value": "black"}, "strokeWidth": {"value": 2.5}, "shape": {"value": "M-1.7,-1H1.7V1H-1.7Z"}, "size": {"value": 225}, "opacity": {"value": 1}}}}}}
         }},
        {"data": {"name": "stats"}, "transform": [{"filter": "datum.panel == 'FIB4' && datum.stat == 'median'"}],
         "mark": {"type": "rule", "color": "black", "strokeWidth": 2.5, "strokeDash": [7, 4]},
         "encoding": {"x": {"field": "lo", "type": "quantitative", "scale": {"domain": [0.34, 3.66], "nice": false, "zero": false}, "axis": {"values": [1, 2, 3], "labelExpr": "datum.value == 1 ? 'M0' : datum.value == 2 ? 'M12' : 'M60'", "title": "Time (month)"}}, "x2": {"field": "hi"}}},
        {"data": {"name": "stats"}, "transform": [{"filter": "datum.panel == 'FIB4' && datum.stat == 'quartile'"}],
         "mark": {"type": "rule", "color": "black", "strokeWidth": 1, "strokeDash": [1.5, 2]},
         "encoding": {"x": {"field": "lo", "type": "quantitative", "scale": {"domain": [0.34, 3.66], "nice": false, "zero": false}, "axis": {"values": [1, 2, 3], "labelExpr": "datum.value == 1 ? 'M0' : datum.value == 2 ? 'M12' : 'M60'", "title": "Time (month)"}}, "x2": {"field": "hi"}}}
      ]
    },
    {"width": 277, "height": 10, "data": {"values": []}, "mark": {"type": "rect", "opacity": 0}, "encoding": {}},
    {
      "width": 151, "height": 228,
      "title": {"text": "NAFLD fibrosis score"},
      "encoding": {"y": {"field": "value", "type": "quantitative", "scale": {"domain": [-10, 5], "nice": false, "zero": false}, "axis": {"values": [-10, -5, 0, 5], "labelExpr": "replace(datum.label, '\u2212', '-')", "title": "Scoree"}}},
      "layer": [
        {"data": {"values": [{"value": 0}]}, "mark": {"type": "rule", "color": "black", "strokeWidth": 2, "strokeDash": [2, 3]}},
        {"data": {"name": "violin"}, "transform": [{"filter": "datum.panel == 'NFS'"}],
         "mark": {"type": "area", "orient": "horizontal", "interpolate": "monotone", "stroke": "black", "strokeWidth": 3, "strokeJoin": "round", "opacity": 1},
         "encoding": {
           "x": {"field": "lo", "type": "quantitative", "stack": null, "scale": {"domain": [0.34, 3.66], "nice": false, "zero": false}, "axis": {"values": [1, 2, 3], "labelExpr": "datum.value == 1 ? 'M0' : datum.value == 2 ? 'M12' : 'M60'", "title": "Time (month)"}},
           "x2": {"field": "hi"},
           "detail": {"field": "time", "type": "nominal"},
           "color": {"field": "time", "type": "nominal", "scale": {"domain": ["M0", "M12", "M60"], "range": ["#0000FF", "#1A86FF", "#66CCFF"]},
             "legend": {"title": null, "symbolType": "M-1.7,-1H1.7V1H-1.7Z", "symbolSize": 225, "symbolStrokeWidth": 2.5, "labelOffset": 18,
               "encode": {"symbols": {"update": {"stroke": {"value": "black"}, "strokeWidth": {"value": 2.5}, "shape": {"value": "M-1.7,-1H1.7V1H-1.7Z"}, "size": {"value": 225}, "opacity": {"value": 1}}}}}}
         }},
        {"data": {"name": "stats"}, "transform": [{"filter": "datum.panel == 'NFS' && datum.stat == 'median'"}],
         "mark": {"type": "rule", "color": "black", "strokeWidth": 2.5, "strokeDash": [7, 4]},
         "encoding": {"x": {"field": "lo", "type": "quantitative", "scale": {"domain": [0.34, 3.66], "nice": false, "zero": false}, "axis": {"values": [1, 2, 3], "labelExpr": "datum.value == 1 ? 'M0' : datum.value == 2 ? 'M12' : 'M60'", "title": "Time (month)"}}, "x2": {"field": "hi"}}},
        {"data": {"name": "stats"}, "transform": [{"filter": "datum.panel == 'NFS' && datum.stat == 'quartile'"}],
         "mark": {"type": "rule", "color": "black", "strokeWidth": 1, "strokeDash": [1.5, 2]},
         "encoding": {"x": {"field": "lo", "type": "quantitative", "scale": {"domain": [0.34, 3.66], "nice": false, "zero": false}, "axis": {"values": [1, 2, 3], "labelExpr": "datum.value == 1 ? 'M0' : datum.value == 2 ? 'M12' : 'M60'", "title": "Time (month)"}}, "x2": {"field": "hi"}}}
      ]
    },
    {
      "width": 151, "height": 228,
      "title": {"text": "AST to platelets ratio (APRI)"},
      "encoding": {"y": {"field": "value", "type": "quantitative", "scale": {"domain": [-0.5, 2.5], "nice": false, "zero": false}, "axis": {"values": [-0.5, 0, 0.5, 1, 1.5, 2, 2.5], "format": ".1f", "labelExpr": "replace(datum.label, '\u2212', '-')", "title": null}}},
      "layer": [
        {"data": {"values": [{"value": 0}]}, "mark": {"type": "rule", "color": "black", "strokeWidth": 2, "strokeDash": [2, 3]}},
        {"data": {"name": "violin"}, "transform": [{"filter": "datum.panel == 'APRI'"}],
         "mark": {"type": "area", "orient": "horizontal", "interpolate": "monotone", "stroke": "black", "strokeWidth": 3, "strokeJoin": "round", "opacity": 1},
         "encoding": {
           "x": {"field": "lo", "type": "quantitative", "stack": null, "scale": {"domain": [0.34, 3.66], "nice": false, "zero": false}, "axis": {"values": [1, 2, 3], "labelExpr": "datum.value == 1 ? 'M0' : datum.value == 2 ? 'M12' : 'M60'", "title": "Time (month)"}},
           "x2": {"field": "hi"},
           "detail": {"field": "time", "type": "nominal"},
           "color": {"field": "time", "type": "nominal", "scale": {"domain": ["M0", "M12", "M60"], "range": ["#0000FF", "#1A86FF", "#66CCFF"]},
             "legend": {"title": null, "symbolType": "M-1.7,-1H1.7V1H-1.7Z", "symbolSize": 225, "symbolStrokeWidth": 2.5, "labelOffset": 18,
               "encode": {"symbols": {"update": {"stroke": {"value": "black"}, "strokeWidth": {"value": 2.5}, "shape": {"value": "M-1.7,-1H1.7V1H-1.7Z"}, "size": {"value": 225}, "opacity": {"value": 1}}}}}}
         }},
        {"data": {"name": "stats"}, "transform": [{"filter": "datum.panel == 'APRI' && datum.stat == 'median'"}],
         "mark": {"type": "rule", "color": "black", "strokeWidth": 2.5, "strokeDash": [7, 4]},
         "encoding": {"x": {"field": "lo", "type": "quantitative", "scale": {"domain": [0.34, 3.66], "nice": false, "zero": false}, "axis": {"values": [1, 2, 3], "labelExpr": "datum.value == 1 ? 'M0' : datum.value == 2 ? 'M12' : 'M60'", "title": "Time (month)"}}, "x2": {"field": "hi"}}},
        {"data": {"name": "stats"}, "transform": [{"filter": "datum.panel == 'APRI' && datum.stat == 'quartile'"}],
         "mark": {"type": "rule", "color": "black", "strokeWidth": 1, "strokeDash": [1.5, 2]},
         "encoding": {"x": {"field": "lo", "type": "quantitative", "scale": {"domain": [0.34, 3.66], "nice": false, "zero": false}, "axis": {"values": [1, 2, 3], "labelExpr": "datum.value == 1 ? 'M0' : datum.value == 2 ? 'M12' : 'M60'", "title": "Time (month)"}}, "x2": {"field": "hi"}}}
      ]
    },
    {"width": 313, "height": 10, "data": {"values": []}, "mark": {"type": "rect", "opacity": 0}, "encoding": {}},
    {
      "width": 151, "height": 228,
      "title": {"text": "Fibrotic non alcoholic steatohepatitis index (FNI)"},
      "encoding": {"y": {"field": "value", "type": "quantitative", "scale": {"domain": [-0.5, 1.5], "nice": false, "zero": false}, "axis": {"values": [-0.5, 0, 0.5, 1, 1.5], "format": ".1f", "labelExpr": "replace(datum.label, '\u2212', '-')", "title": "Score"}}},
      "layer": [
        {"data": {"values": [{"value": 0}]}, "mark": {"type": "rule", "color": "black", "strokeWidth": 2, "strokeDash": [2, 3]}},
        {"data": {"name": "violin"}, "transform": [{"filter": "datum.panel == 'FNI'"}],
         "mark": {"type": "area", "orient": "horizontal", "interpolate": "monotone", "stroke": "black", "strokeWidth": 3, "strokeJoin": "round", "opacity": 1},
         "encoding": {
           "x": {"field": "lo", "type": "quantitative", "stack": null, "scale": {"domain": [0.34, 3.66], "nice": false, "zero": false}, "axis": {"values": [1, 2, 3], "labelExpr": "datum.value == 1 ? 'M0' : datum.value == 2 ? 'M12' : 'M60'", "title": "Time (month)"}},
           "x2": {"field": "hi"},
           "detail": {"field": "time", "type": "nominal"},
           "color": {"field": "time", "type": "nominal", "scale": {"domain": ["M0", "M12", "M60"], "range": ["#0000FF", "#1A86FF", "#66CCFF"]},
             "legend": {"title": null, "symbolType": "M-1.7,-1H1.7V1H-1.7Z", "symbolSize": 225, "symbolStrokeWidth": 2.5, "labelOffset": 18,
               "encode": {"symbols": {"update": {"stroke": {"value": "black"}, "strokeWidth": {"value": 2.5}, "shape": {"value": "M-1.7,-1H1.7V1H-1.7Z"}, "size": {"value": 225}, "opacity": {"value": 1}}}}}}
         }},
        {"data": {"name": "stats"}, "transform": [{"filter": "datum.panel == 'FNI' && datum.stat == 'median'"}],
         "mark": {"type": "rule", "color": "black", "strokeWidth": 2.5, "strokeDash": [7, 4]},
         "encoding": {"x": {"field": "lo", "type": "quantitative", "scale": {"domain": [0.34, 3.66], "nice": false, "zero": false}, "axis": {"values": [1, 2, 3], "labelExpr": "datum.value == 1 ? 'M0' : datum.value == 2 ? 'M12' : 'M60'", "title": "Time (month)"}}, "x2": {"field": "hi"}}},
        {"data": {"name": "stats"}, "transform": [{"filter": "datum.panel == 'FNI' && datum.stat == 'quartile'"}],
         "mark": {"type": "rule", "color": "black", "strokeWidth": 1, "strokeDash": [1.5, 2]},
         "encoding": {"x": {"field": "lo", "type": "quantitative", "scale": {"domain": [0.34, 3.66], "nice": false, "zero": false}, "axis": {"values": [1, 2, 3], "labelExpr": "datum.value == 1 ? 'M0' : datum.value == 2 ? 'M12' : 'M60'", "title": "Time (month)"}}, "x2": {"field": "hi"}}}
      ]
    },
    {"width": 283, "height": 10, "data": {"values": []}, "mark": {"type": "rect", "opacity": 0}, "encoding": {}},
    {
      "width": 151, "height": 228,
      "title": {"text": "Hepamet fibrosis score (HFS)"},
      "encoding": {"y": {"field": "value", "type": "quantitative", "scale": {"domain": [-0.2, 1.0], "nice": false, "zero": false}, "axis": {"values": [-0.2, 0, 0.2, 0.4, 0.6, 0.8, 1.0], "format": ".1f", "labelExpr": "replace(datum.label, '\u2212', '-')", "title": null}}},
      "layer": [
        {"data": {"values": [{"value": 0}]}, "mark": {"type": "rule", "color": "black", "strokeWidth": 2, "strokeDash": [2, 3]}},
        {"data": {"name": "violin"}, "transform": [{"filter": "datum.panel == 'HFS'"}],
         "mark": {"type": "area", "orient": "horizontal", "interpolate": "monotone", "stroke": "black", "strokeWidth": 3, "strokeJoin": "round", "opacity": 1},
         "encoding": {
           "x": {"field": "lo", "type": "quantitative", "stack": null, "scale": {"domain": [0.34, 3.66], "nice": false, "zero": false}, "axis": {"values": [1, 2, 3], "labelExpr": "datum.value == 1 ? 'M0' : datum.value == 2 ? 'M12' : 'M60'", "title": "Time (month)"}},
           "x2": {"field": "hi"},
           "detail": {"field": "time", "type": "nominal"},
           "color": {"field": "time", "type": "nominal", "scale": {"domain": ["M0", "M12", "M60"], "range": ["#0000FF", "#1A86FF", "#66CCFF"]},
             "legend": {"title": null, "symbolType": "M-1.7,-1H1.7V1H-1.7Z", "symbolSize": 225, "symbolStrokeWidth": 2.5, "labelOffset": 18,
               "encode": {"symbols": {"update": {"stroke": {"value": "black"}, "strokeWidth": {"value": 2.5}, "shape": {"value": "M-1.7,-1H1.7V1H-1.7Z"}, "size": {"value": 225}, "opacity": {"value": 1}}}}}}
         }},
        {"data": {"name": "stats"}, "transform": [{"filter": "datum.panel == 'HFS' && datum.stat == 'median'"}],
         "mark": {"type": "rule", "color": "black", "strokeWidth": 2.5, "strokeDash": [7, 4]},
         "encoding": {"x": {"field": "lo", "type": "quantitative", "scale": {"domain": [0.34, 3.66], "nice": false, "zero": false}, "axis": {"values": [1, 2, 3], "labelExpr": "datum.value == 1 ? 'M0' : datum.value == 2 ? 'M12' : 'M60'", "title": "Time (month)"}}, "x2": {"field": "hi"}}},
        {"data": {"name": "stats"}, "transform": [{"filter": "datum.panel == 'HFS' && datum.stat == 'quartile'"}],
         "mark": {"type": "rule", "color": "black", "strokeWidth": 1, "strokeDash": [1.5, 2]},
         "encoding": {"x": {"field": "lo", "type": "quantitative", "scale": {"domain": [0.34, 3.66], "nice": false, "zero": false}, "axis": {"values": [1, 2, 3], "labelExpr": "datum.value == 1 ? 'M0' : datum.value == 2 ? 'M12' : 'M60'", "title": "Time (month)"}}, "x2": {"field": "hi"}}}
      ]
    }
  ],
  "columns": 5,
  "spacing": {"row": 185, "column": 0},
  "bounds": "flush",
  "align": {"row": "each", "column": "none"},
  "resolve": {"scale": {"color": "independent"}, "legend": {"color": "independent"}}
}
